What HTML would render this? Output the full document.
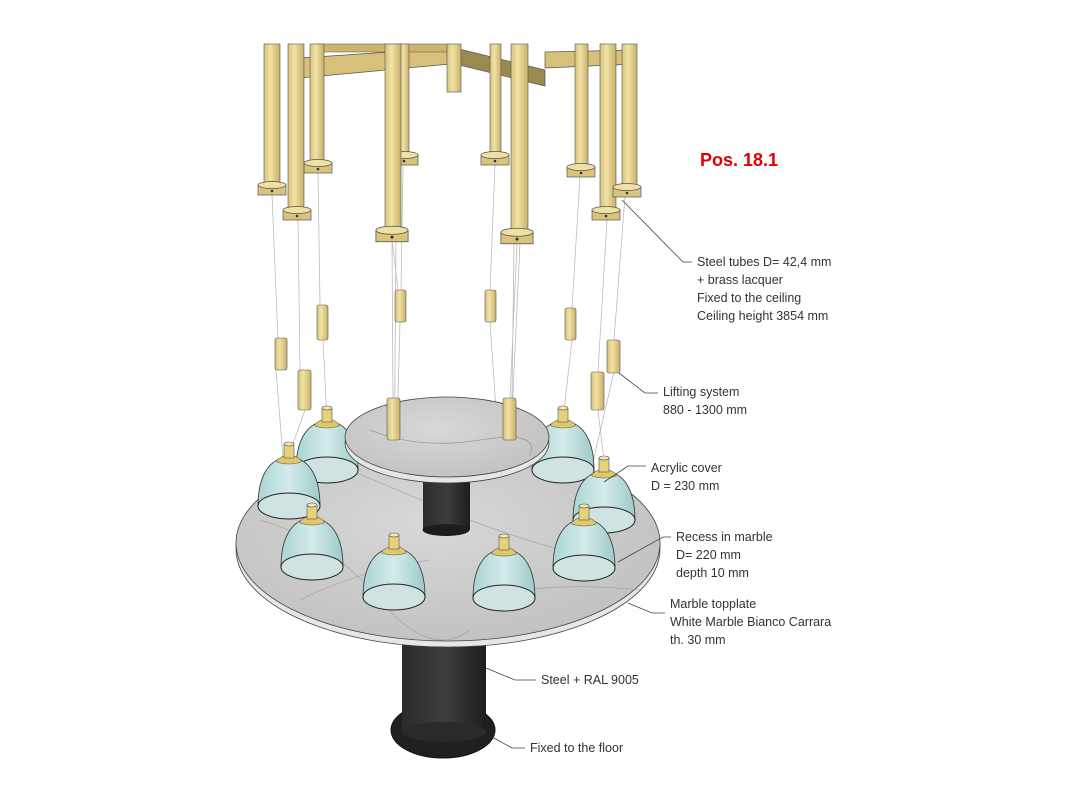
<!DOCTYPE html>
<html><head><meta charset="utf-8"><style>
html,body{margin:0;padding:0;background:#fff;}
svg{display:block;}
text{font-family:"Liberation Sans",Arial,sans-serif;font-size:12.5px;fill:#333;}
</style></head><body>
<svg width="1067" height="800" viewBox="0 0 1067 800" xmlns="http://www.w3.org/2000/svg">
<defs>
<linearGradient id="brass" x1="0" x2="1" y1="0" y2="0">
<stop offset="0" stop-color="#d8c27a"/><stop offset="0.4" stop-color="#f1e2a6"/><stop offset="1" stop-color="#c9b06a"/></linearGradient>
<linearGradient id="black" x1="0" x2="1"><stop offset="0" stop-color="#2b2b2b"/><stop offset="0.5" stop-color="#3d3d3d"/><stop offset="1" stop-color="#1e1e1e"/></linearGradient>
<radialGradient id="marble" cx="0.45" cy="0.4" r="0.7"><stop offset="0" stop-color="#d8d8d8"/><stop offset="1" stop-color="#bfbfbf"/></radialGradient>
<linearGradient id="glass" x1="0" x2="1"><stop offset="0" stop-color="#a9d4d2"/><stop offset="0.5" stop-color="#d4ecea"/><stop offset="1" stop-color="#9ccac7"/></linearGradient>
<g id="collar"><rect x="-14" y="-5" width="28" height="10" fill="#d9c37d" stroke="#555" stroke-width="0.7"/><ellipse cx="0" cy="-5" rx="14" ry="3.5" fill="#efe0a4" stroke="#555" stroke-width="0.7"/><circle cx="0" cy="1" r="1.3" fill="#333"/></g>
<g id="lamp">
<path d="M-31,0 C-31,-30 -20,-45 -6,-48 L6,-48 C20,-45 31,-30 31,0 Z" fill="url(#glass)" stroke="#333" stroke-width="0.8"/>
<ellipse cx="0" cy="0" rx="31" ry="13" fill="#cfe3e2" stroke="#222" stroke-width="1"/>
<path d="M-12,-46 Q0,-56 12,-46 L12,-44 Q0,-40 -12,-44Z" fill="#e0c86a" stroke="#555" stroke-width="0.6"/>
<rect x="-5" y="-62" width="10" height="14" fill="#e7d27a" stroke="#555" stroke-width="0.6"/>
<ellipse cx="0" cy="-62" rx="5" ry="2" fill="#f3e6aa" stroke="#555" stroke-width="0.6"/>
</g>
</defs>

<!-- ceiling frame beams -->
<polygon points="300,58 450,48 450,64 300,78" fill="#d6c07a" stroke="#555" stroke-width="0.7"/>
<polygon points="455,48 545,70 545,86 455,64" fill="#9b8a4f" stroke="#555" stroke-width="0.7"/>
<polygon points="545,52 635,50 635,64 545,68" fill="#d6c07a" stroke="#555" stroke-width="0.7"/>
<polygon points="315,44 450,44 450,52 315,52" fill="#cdb56e" stroke="#555" stroke-width="0.5"/>
<rect x="447" y="44" width="14" height="48" fill="url(#brass)" stroke="#555" stroke-width="0.6"/>

<!-- strings -->
<g stroke="#bbb" stroke-width="0.8" fill="none">
<path d="M272,195 L278,340 M276,370 L284,470"/>
<path d="M298,220 L300,370 M305,410 L289,455"/>
<path d="M318,172 L320,305 M323,340 L327,420"/>
<path d="M392,240 L398,290 M392,240 L393,398 M396,240 L394,500 M400,322 L394,540"/>
<path d="M403,165 L401,290"/>
<path d="M495,165 L490,290 M490,322 L505,540"/>
<path d="M517,243 L510,398 M520,243 L508,500 M514,243 L512,398"/>
<path d="M580,176 L572,308 M572,340 L563,420"/>
<path d="M607,220 L598,372 M598,410 L604,460"/>
<path d="M625,196 L614,340 M614,372 L584,500"/>
</g>

<!-- back tubes -->
<rect x="310" y="44" width="14" height="124" fill="url(#brass)" stroke="#555" stroke-width="0.6"/>
<use href="#collar" x="318" y="168"/>
<rect x="399" y="44" width="10" height="116" fill="url(#brass)" stroke="#555" stroke-width="0.6"/>
<use href="#collar" x="404" y="160"/>
<rect x="490" y="44" width="11" height="116" fill="url(#brass)" stroke="#555" stroke-width="0.6"/>
<use href="#collar" x="495" y="160"/>
<rect x="575" y="44" width="13" height="128" fill="url(#brass)" stroke="#555" stroke-width="0.6"/>
<use href="#collar" x="581" y="172"/>
<!-- front tubes -->
<rect x="264" y="44" width="16" height="146" fill="url(#brass)" stroke="#555" stroke-width="0.6"/>
<use href="#collar" x="272" y="190"/>
<rect x="288" y="44" width="16" height="171" fill="url(#brass)" stroke="#555" stroke-width="0.6"/>
<use href="#collar" x="297" y="215"/>
<rect x="385" y="44" width="16" height="191" fill="url(#brass)" stroke="#555" stroke-width="0.6"/>
<g transform="translate(392,236) scale(1.15)"><use href="#collar"/></g>
<rect x="511" y="44" width="17" height="194" fill="url(#brass)" stroke="#555" stroke-width="0.6"/>
<g transform="translate(517,238) scale(1.15)"><use href="#collar"/></g>
<rect x="600" y="44" width="16" height="171" fill="url(#brass)" stroke="#555" stroke-width="0.6"/>
<use href="#collar" x="606" y="215"/>
<rect x="622" y="44" width="15" height="148" fill="url(#brass)" stroke="#555" stroke-width="0.6"/>
<use href="#collar" x="627" y="192"/>

<!-- lifting cylinders -->
<g fill="url(#brass)" stroke="#555" stroke-width="0.6">
<rect x="275" y="338" width="12" height="32" rx="2"/>
<rect x="298" y="370" width="13" height="40" rx="2"/>
<rect x="317" y="305" width="11" height="35" rx="2"/>
<rect x="395" y="290" width="11" height="32" rx="2"/>
<rect x="485" y="290" width="11" height="32" rx="2"/>
<rect x="565" y="308" width="11" height="32" rx="2"/>
<rect x="591" y="372" width="13" height="38" rx="2"/>
<rect x="607" y="340" width="13" height="33" rx="2"/>
</g>

<!-- big black column -->
<ellipse cx="443" cy="730" rx="52" ry="28" fill="#202020" stroke="#111"/>
<rect x="402" y="640" width="84" height="92" fill="url(#black)"/>
<ellipse cx="444" cy="732" rx="42" ry="10" fill="#2a2a2a"/>

<!-- big table -->
<ellipse cx="448" cy="549" rx="212" ry="98" fill="#e6e6e6" stroke="#444" stroke-width="0.8"/>
<ellipse cx="448" cy="543" rx="212" ry="98" fill="url(#marble)" stroke="#444" stroke-width="0.8"/>
<g stroke="#9a9a9a" stroke-width="0.8" fill="none" opacity="0.7">
<path d="M260,520 Q330,540 380,600 T470,630"/><path d="M350,470 Q420,500 470,520 T600,560"/><path d="M300,600 Q360,570 430,560"/><path d="M480,600 Q540,580 640,590"/>
</g>

<!-- lamps behind -->
<use href="#lamp" x="327" y="470"/>
<use href="#lamp" x="563" y="470"/>
<use href="#lamp" x="289" y="506"/>
<use href="#lamp" x="604" y="520"/>

<!-- small column & small table -->
<rect x="423" y="470" width="47" height="60" fill="url(#black)"/>
<ellipse cx="446" cy="530" rx="23.5" ry="6" fill="#1d1d1d"/>
<ellipse cx="447" cy="443" rx="102" ry="40" fill="#e6e6e6" stroke="#444" stroke-width="0.8"/>
<ellipse cx="447" cy="437" rx="102" ry="40" fill="url(#marble)" stroke="#444" stroke-width="0.8"/>
<path d="M370,430 Q420,450 480,440 T530,455" stroke="#999" fill="none" stroke-width="0.8"/>
<rect x="387" y="398" width="13" height="42" rx="2" fill="url(#brass)" stroke="#555" stroke-width="0.6"/>
<rect x="503" y="398" width="13" height="42" rx="2" fill="url(#brass)" stroke="#555" stroke-width="0.6"/>

<!-- front lamps -->
<use href="#lamp" x="312" y="567"/>
<use href="#lamp" x="584" y="568"/>
<use href="#lamp" x="394" y="597"/>
<use href="#lamp" x="504" y="598"/>

<!-- leaders -->
<g stroke="#444" stroke-width="0.8" fill="none">
<path d="M622,200 L683,262 L692,262"/>
<path d="M619,373 L645,393 L658,393"/>
<path d="M604,482 L628,466 L646,466"/>
<path d="M618,562 L663,537 L671,537"/>
<path d="M628,603 L652,613 L665,613"/>
<path d="M486,668 L515,680 L536,680"/>
<path d="M492,737 L512,748 L525,748"/>
</g>

<text x="700" y="166" style="fill:#e00000;font-weight:bold;font-size:18px;">Pos. 18.1</text>
<text x="697" y="266">Steel tubes D= 42,4 mm</text>
<text x="697" y="284">+ brass lacquer</text>
<text x="697" y="302">Fixed to the ceiling</text>
<text x="697" y="320">Ceiling height 3854 mm</text>
<text x="663" y="396">Lifting system</text>
<text x="663" y="414">880 - 1300 mm</text>
<text x="651" y="472">Acrylic cover</text>
<text x="651" y="490">D = 230 mm</text>
<text x="676" y="541">Recess in marble</text>
<text x="676" y="559">D= 220 mm</text>
<text x="676" y="577">depth 10 mm</text>
<text x="670" y="608">Marble topplate</text>
<text x="670" y="626">White Marble Bianco Carrara</text>
<text x="670" y="644">th. 30 mm</text>
<text x="541" y="684">Steel + RAL 9005</text>
<text x="530" y="752">Fixed to the floor</text>
</svg>
</body></html>
